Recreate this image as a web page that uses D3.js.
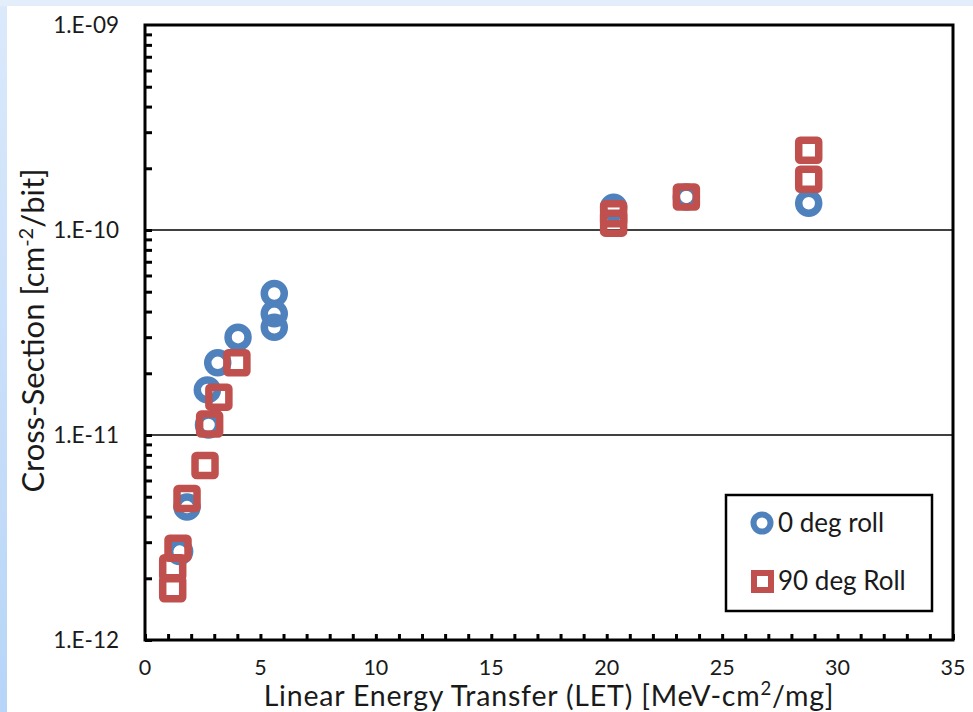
<!DOCTYPE html>
<html>
<head>
  <script src="https://d3js.org/d3.v7.min.js"></script>
  <style>
    body { margin: 0; background: #e4eefb; }
    svg { display: block; }
    text { font-family: Lato, "Open Sans", sans-serif; fill: #1a1a1a; }
  </style>
</head>
<body>
  <div id="chart"></div>
  <script>
    // 0 deg roll : [LET, cross-section]
    var roll0 = [
      [1.5, 2.7e-12], [1.82, 4.45e-12], [2.75, 1.12e-11], [2.7, 1.66e-11],
      [3.15, 2.25e-11], [4.03, 3.0e-11], [5.6, 4.9e-11], [5.6, 3.9e-11],
      [5.6, 3.35e-11], [20.3, 1.29e-10], [23.45, 1.45e-10], [28.75, 1.35e-10]
    ];
    // 90 deg Roll
    var roll90 = [
      [1.2, 2.25e-12], [1.2, 1.78e-12], [1.43, 2.8e-12], [1.82, 4.9e-12],
      [2.6, 7.1e-12], [2.8, 1.13e-11], [3.2, 1.53e-11], [3.98, 2.25e-11],
      [20.3, 1.2e-10], [20.3, 1.08e-10], [23.45, 1.45e-10],
      [28.75, 2.45e-10], [28.75, 1.77e-10]
    ];
    var xTicks = [0, 5, 10, 15, 20, 25, 30, 35];
    var yTicks = [1e-12, 1e-11, 1e-10, 1e-9];
    var yLabels = ["1.E-12", "1.E-11", "1.E-10", "1.E-09"];
    var seriesNames = ["0 deg roll", "90 deg Roll"];

    var W = 973, H = 712;
    var m = { left: 145, top: 25, right: 953, bottom: 640 };
    var blue = "#4f81bd", red = "#c0504d";

    var svg = d3.select("#chart").append("svg")
      .attr("width", W).attr("height", H);

    // white page area with blue edges
    var grad = svg.append("defs").append("linearGradient")
      .attr("id", "edge").attr("x1", 0).attr("x2", 0).attr("y1", 0).attr("y2", 1);
    grad.append("stop").attr("offset", 0).attr("stop-color", "#dbe9fb");
    grad.append("stop").attr("offset", 1).attr("stop-color", "#b7d5f8");
    svg.append("rect").attr("width", W).attr("height", H).attr("fill", "#e4eefb");
    svg.append("rect").attr("x", 0).attr("y", 6).attr("width", 7).attr("height", H - 6)
      .attr("fill", "url(#edge)");
    svg.append("rect").attr("x", 7).attr("y", 6).attr("width", W - 7).attr("height", H - 6)
      .attr("fill", "#ffffff");

    var x = d3.scaleLinear().domain([0, 35]).range([m.left, m.right]);
    var y = d3.scaleLog().domain([1e-12, 1e-9]).range([m.bottom, m.top]);

    // gridlines
    svg.selectAll(".grid").data([1e-11, 1e-10]).enter().append("line")
      .attr("x1", m.left).attr("x2", m.right)
      .attr("y1", d => y(d)).attr("y2", d => y(d))
      .attr("stroke", "#000").attr("stroke-width", 1.5);

    // minor ticks y (inside)
    var yMinor = [];
    for (var e = -12; e < -9; e++) {
      for (var k = 1; k <= 9; k++) yMinor.push(k * Math.pow(10, e));
    }
    svg.append("g").attr("transform", "translate(" + m.left + ",0)")
      .call(d3.axisRight(y).tickValues(yMinor).tickSize(7).tickFormat(""))
      .call(g => g.select(".domain").remove())
      .call(g => g.selectAll("line").attr("stroke-width", 3));

    // x ticks (inside)
    svg.append("g").attr("transform", "translate(0," + m.bottom + ")")
      .call(d3.axisTop(x).tickValues(d3.range(0, 36, 1)).tickSize(6).tickFormat(""))
      .call(g => g.select(".domain").remove())
      .call(g => g.selectAll("line").attr("stroke-width", 3));

    // frame
    svg.append("rect").attr("x", m.left).attr("y", m.top)
      .attr("width", m.right - m.left).attr("height", m.bottom - m.top)
      .attr("fill", "none").attr("stroke", "#000").attr("stroke-width", 3);

    // tick labels
    svg.selectAll(".xl").data(xTicks).enter().append("text")
      .attr("x", d => x(d)).attr("y", m.bottom + 35)
      .attr("text-anchor", "middle").attr("font-size", 21.5)
      .text(d => d);
    svg.selectAll(".yl").data(yTicks).enter().append("text")
      .attr("x", m.left - 26).attr("y", d => y(d) + 8)
      .attr("text-anchor", "end").attr("font-size", 22.5)
      .text((d, i) => yLabels[i]);

    // axis titles
    var xt = svg.append("text").attr("x", (m.left + m.right) / 2).attr("y", 706)
      .attr("text-anchor", "middle").attr("font-size", 28.5)
      .attr("letter-spacing", 0.8);
    xt.append("tspan").text("Linear Energy Transfer (LET) [MeV-cm");
    xt.append("tspan").attr("font-size", 18.5).attr("dy", -11).text("2");
    xt.append("tspan").attr("dy", 11).text("/mg]");

    var yt = svg.append("text")
      .attr("transform", "translate(44," + ((m.top + m.bottom) / 2 - 2) + ") rotate(-90)")
      .attr("text-anchor", "middle").attr("font-size", 31);
    yt.append("tspan").text("Cross-Section [cm");
    yt.append("tspan").attr("font-size", 20).attr("dy", -11).text("-2");
    yt.append("tspan").attr("dy", 11).text("/bit]");

    // markers
    svg.selectAll(".c0").data(roll0).enter().append("circle")
      .attr("cx", d => x(d[0])).attr("cy", d => y(d[1])).attr("r", 10)
      .attr("fill", "none").attr("stroke", blue).attr("stroke-width", 7.5);
    svg.selectAll(".s90").data(roll90).enter().append("rect")
      .attr("x", d => x(d[0]) - 10).attr("y", d => y(d[1]) - 10)
      .attr("width", 20).attr("height", 20).attr("rx", 1.5)
      .attr("fill", "none").attr("stroke", red).attr("stroke-width", 7.5);

    // legend
    var lg = svg.append("g").attr("transform", "translate(726,495)");
    lg.append("rect").attr("width", 206).attr("height", 116)
      .attr("fill", "#fff").attr("stroke", "#000").attr("stroke-width", 2.5);
    lg.append("circle").attr("cx", 36).attr("cy", 28).attr("r", 8.5)
      .attr("fill", "none").attr("stroke", blue).attr("stroke-width", 6);
    lg.append("rect").attr("x", 28).attr("y", 78).attr("width", 17).attr("height", 17)
      .attr("fill", "none").attr("stroke", red).attr("stroke-width", 6);
    lg.selectAll(".lt").data(seriesNames).enter().append("text")
      .attr("x", 52).attr("y", (d, i) => 37 + i * 58)
      .attr("font-size", 26).text(d => d);
  </script>
</body>
</html>
